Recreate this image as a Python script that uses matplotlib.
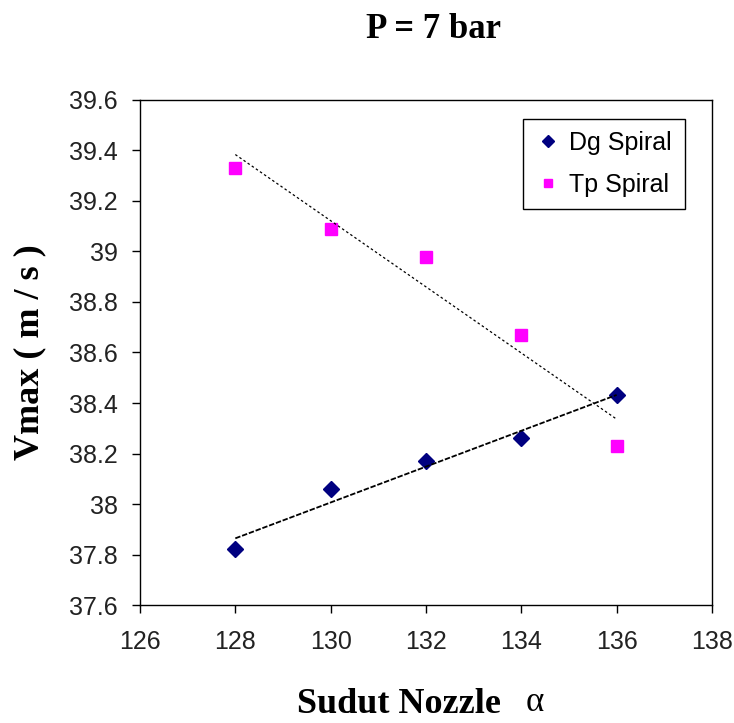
import numpy as np
import matplotlib
matplotlib.use("Agg")
from matplotlib import pyplot as plt

sudut = [128, 130, 132, 134, 136]
dg_spiral = [37.82, 38.06, 38.17, 38.26, 38.43]
tp_spiral = [39.33, 39.09, 38.98, 38.67, 38.23]

x_ticks = [126, 128, 130, 132, 134, 136, 138]
y_ticks = [37.6, 37.8, 38.0, 38.2, 38.4, 38.6, 38.8, 39.0, 39.2, 39.4, 39.6]
y_labels = ['37.6', '37.8', '38', '38.2', '38.4', '38.6', '38.8', '39', '39.2', '39.4', '39.6']

sans = 'Liberation Sans'
serif = 'Liberation Serif'

fig = plt.figure(figsize=(7.34, 7.23), dpi=100)
ax = fig.add_axes([0.1907, 0.1632, 0.7793, 0.6985])

ax.plot(sudut, dg_spiral, 'D', color='#000080', ms=8, label='Dg Spiral')
ax.plot(sudut, tp_spiral, 's', color='#FF00FF', ms=8.5, label='Tp Spiral')

# linear trendlines
xs = np.array(sudut, dtype=float)
for ys, ls, lw in [(dg_spiral, (0, (3, 1)), 1.3), (tp_spiral, (0, (2, 2)), 0.9)]:
    k, b = np.polyfit(xs, ys, 1)
    ax.plot(xs, k * xs + b, color='black', ls=ls, lw=lw)

ax.set_xlim(126, 138)
ax.set_ylim(37.6, 39.6)
ax.set_xticks(x_ticks)
ax.set_xticklabels([str(t) for t in x_ticks], fontsize=18, family=sans, color='#222222')
ax.set_yticks(y_ticks)
ax.set_yticklabels(y_labels, fontsize=18, family=sans, color='#222222')
ax.tick_params(direction='out', length=6, width=1, pad=10, color='black')
ax.tick_params(axis='x', pad=12)
for s in ax.spines.values():
    s.set_linewidth(1)

fig.text(30 / 734, 0.513, 'Vmax ( m / s )', fontsize=26, family=serif, fontweight='bold',
         rotation=90, ha='center', va='center')
fig.text(0.544, 0.014, 'Sudut Nozzle', fontsize=26, family=serif, fontweight='bold',
         ha='center', va='baseline')
fig.text(0.729, 0.016, '\u03b1', fontsize=25, family=serif, ha='center', va='baseline')

fig.text(0.591, 0.947, 'P = 7 bar', fontsize=25, family=serif, fontweight='bold',
         ha='center', va='baseline')

leg = ax.legend(loc='upper right', bbox_to_anchor=(0.952, 0.963), borderaxespad=0,
                prop={'family': sans, 'size': 18},
                fancybox=False, edgecolor='black', framealpha=1, handletextpad=0.35,
                borderpad=0.5, labelspacing=0.7, handlelength=1.0, markerscale=0.75)
leg.get_frame().set_linewidth(1)

fig.savefig('out.png', dpi=100)
